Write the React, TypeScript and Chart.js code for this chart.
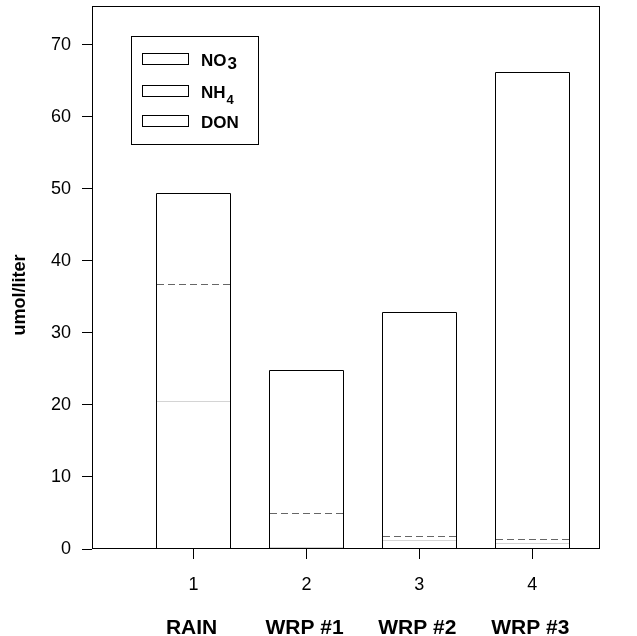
import React, { useEffect, useRef } from 'react';
import { Chart, registerables } from 'chart.js';
Chart.register(...registerables);

const categories = [1, 2, 3, 4];
const siteNames = ['RAIN', 'WRP #1', 'WRP #2', 'WRP #3'];
const seriesLabels = ['NO3', 'NH4', 'DON'];
const no3 = [20.6, 0.3, 1.25, 0.9];
const nh4 = [16.2, 4.7, 0.55, 0.5];
const don = [12.6, 19.8, 31.1, 64.85];
const yTickStep = 10;
const yTitle = 'umol/liter';

const FONT = "'Liberation Sans', Arial, Helvetica, sans-serif";

const boundaryStyles = [
  { color: '#d4d4d4', dash: [] as number[] },
  { color: '#666666', dash: [7, 4] },
];

const legendSubStyle = [
  { size: 17, drop: 3 },
  { size: 13, drop: 6 },
  { size: 13, drop: 6 },
];

const boundaryPlugin = {
  id: 'boundaries',
  afterDatasetsDraw(chart: any) {
    const ctx = chart.ctx;
    ctx.save();
    ctx.lineWidth = 1;
    boundaryStyles.forEach((s, i) => {
      const meta = chart.getDatasetMeta(i);
      meta.data.forEach((el: any) => {
        const p = el.getProps(['x', 'y', 'width'], true);
        const y = Math.round(p.y) + 0.5;
        ctx.strokeStyle = s.color;
        ctx.setLineDash(s.dash);
        ctx.beginPath();
        ctx.moveTo(Math.round(p.x - p.width / 2) + 1, y);
        ctx.lineTo(Math.round(p.x + p.width / 2) - 1, y);
        ctx.stroke();
      });
    });
    // outlines of whole stacked bars
    const topMeta = chart.getDatasetMeta(chart.data.datasets.length - 1);
    const y0 = Math.round(chart.scales.y.getPixelForValue(0));
    ctx.strokeStyle = '#000';
    ctx.setLineDash([]);
    topMeta.data.forEach((el: any) => {
      const p = el.getProps(['x', 'y', 'width'], true);
      const l = Math.round(p.x - p.width / 2) + 0.5;
      const r = Math.round(p.x + p.width / 2) - 0.5;
      const t = Math.round(p.y) + 0.5;
      ctx.beginPath();
      ctx.moveTo(l, y0);
      ctx.lineTo(l, t);
      ctx.lineTo(r, t);
      ctx.lineTo(r, y0);
      ctx.stroke();
    });
    ctx.restore();
  },
};

const framePlugin = {
  id: 'frame',
  afterDraw(chart: any) {
    const { ctx, chartArea: a } = chart;
    ctx.save();
    ctx.strokeStyle = '#000';
    ctx.lineWidth = 1;
    ctx.setLineDash([]);
    const l = Math.round(a.left) + 0.5;
    const t = Math.round(a.top) + 0.5;
    const r = Math.round(a.right) - 0.5;
    const b = Math.round(a.bottom) - 0.5;
    ctx.strokeRect(l, t, r - l, b - t);

    // y title
    ctx.fillStyle = '#000';
    ctx.font = `bold 18px ${FONT}`;
    ctx.textAlign = 'center';
    ctx.textBaseline = 'middle';
    ctx.translate(20, a.top + 289);
    ctx.rotate(-Math.PI / 2);
    ctx.fillText(yTitle, 0, 0);
    ctx.restore();

    // legend
    ctx.save();
    const bx = Math.round(a.left) + 39.5;
    const by = Math.round(a.top) + 30.5;
    const bw = 127;
    const bh = 108;
    ctx.fillStyle = '#fff';
    ctx.fillRect(bx, by, bw, bh);
    ctx.strokeStyle = '#000';
    ctx.lineWidth = 1;
    ctx.strokeRect(bx, by, bw, bh);
    const swTops = [47, 79, 109];
    seriesLabels.forEach((lab, i) => {
      const sy = Math.round(a.top) + swTops[i] + 0.5;
      const sx = Math.round(a.left) + 50.5;
      ctx.strokeRect(sx, sy, 46, 11);
      const m = lab.match(/^(\D+)(\d*)$/);
      const base = m ? m[1] : lab;
      const sub = m ? m[2] : '';
      const tx = Math.round(a.left) + 109;
      const ty = sy + 12.5;
      ctx.fillStyle = '#000';
      ctx.font = `bold 17px ${FONT}`;
      ctx.textAlign = 'left';
      ctx.textBaseline = 'alphabetic';
      ctx.fillText(base, tx, ty);
      if (sub) {
        const w = ctx.measureText(base).width;
        const st = legendSubStyle[i];
        ctx.font = `bold ${st.size}px ${FONT}`;
        ctx.fillText(sub, tx + w + 1, ty + st.drop);
      }
    });
    ctx.restore();
  },
};

export default function App() {
  const ref = useRef<HTMLCanvasElement | null>(null);
  useEffect(() => {
    if (!ref.current) return;
    const mk = (label: string, values: number[]) => ({
      label,
      data: categories.map((c, i) => ({ x: c, y: values[i] })),
      backgroundColor: '#ffffff',
      borderColor: '#000000',
      borderWidth: 0,
      inflateAmount: 0,
      barPercentage: 0.66,
      categoryPercentage: 1,
    });
    const tickBuilder = (s: any) => {
      s.ticks = categories.map((v) => ({ value: v }));
    };
    const noPad = (s: any) => {
      s.paddingTop = 0;
      s.paddingBottom = 0;
      s.paddingLeft = 0;
      s.paddingRight = 0;
    };
    const chart = new Chart(ref.current, {
      type: 'bar',
      data: {
        datasets: [
          mk(seriesLabels[0], no3),
          mk(seriesLabels[1], nh4),
          mk(seriesLabels[2], don),
        ] as any,
      },
      options: {
        responsive: false,
        maintainAspectRatio: false,
        animation: false,
        devicePixelRatio: 1,
        layout: { padding: { top: 6, right: 37, left: 0, bottom: 0 } },
        plugins: { legend: { display: false }, tooltip: { enabled: false } },
        scales: {
          x: {
            type: 'linear',
            min: 0.1,
            max: 4.6,
            offset: false,
            stacked: true,
            position: 'bottom',
            afterBuildTicks: tickBuilder,
            afterFit: (s: any) => {
              s.height = 50;
              noPad(s);
            },
            grid: { display: true, offset: false, drawOnChartArea: false, drawTicks: true, tickLength: 10, color: '#000' },
            border: { display: false },
            ticks: {
              color: '#000',
              font: { family: FONT, size: 18 },
              padding: 15,
              maxRotation: 0,
              autoSkip: false,
              callback: (v: any) => String(v),
            },
          },
          x2: {
            type: 'linear',
            min: 0.1,
            max: 4.6,
            offset: false,
            position: 'bottom',
            afterBuildTicks: tickBuilder,
            afterFit: (s: any) => {
              s.height = 37;
              noPad(s);
            },
            grid: { display: false, offset: false },
            border: { display: false },
            ticks: {
              color: '#000',
              font: { family: FONT, size: 21, weight: 'bold' },
              padding: 9,
              labelOffset: -2,
              maxRotation: 0,
              autoSkip: false,
              callback: (v: any) => siteNames[categories.indexOf(Number(v))] ?? '',
            },
          },
          y: {
            type: 'linear',
            min: 0,
            max: 75.4,
            stacked: true,
            afterFit: (s: any) => {
              s.width = 92;
              noPad(s);
            },
            grid: { display: true, drawOnChartArea: false, drawTicks: true, tickLength: 10, color: '#000' },
            border: { display: false },
            ticks: {
              stepSize: yTickStep,
              includeBounds: false,
              color: '#000',
              font: { family: FONT, size: 18 },
              padding: 11,
            },
          },
        } as any,
      },
      plugins: [boundaryPlugin, framePlugin],
    });
    return () => chart.destroy();
  }, []);
  return (
    <div style={{ position: 'fixed', left: 0, top: 0, width: 637, height: 636, background: '#fff' }}>
      <canvas ref={ref} width={637} height={636} style={{ display: 'block' }} />
    </div>
  );
}
